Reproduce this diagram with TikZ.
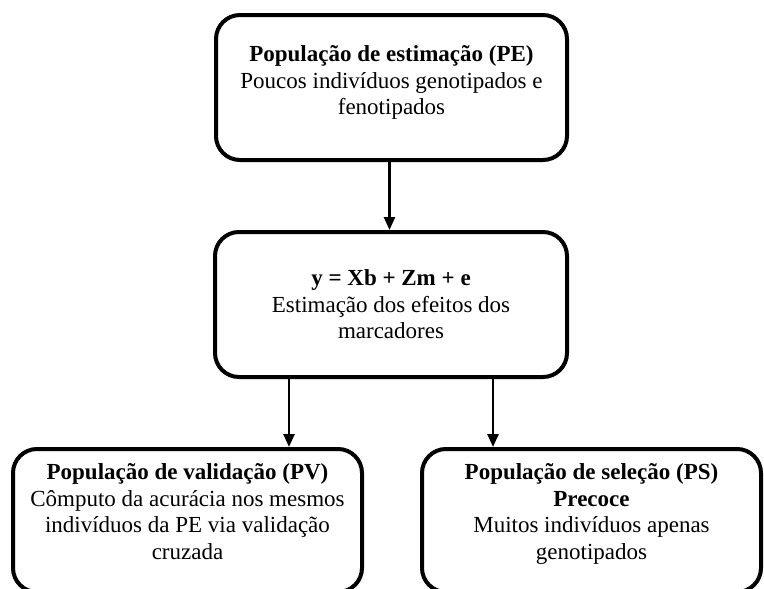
\documentclass[tikz,border=0pt]{standalone}
\usepackage{fontspec}
\setmainfont{Liberation Serif}
\usetikzlibrary{arrows.meta}
\tikzset{
  caixa/.style={draw, line width=4pt, rounded corners=24pt, align=center, inner sep=0pt,
    font=\fontsize{23}{26.5}\selectfont},
  seta/.style={line width=2.5pt, -{Triangle[length=13pt,width=11pt]}}
}

\begin{document}
\begin{tikzpicture}[x=1pt,y=-1pt]
			%%%%% START %%%%%
			\useasboundingbox (0,0) rectangle (764,589);
			
			\node[caixa, minimum width=351pt, minimum height=145pt] (pe) at (391.5,87.5)
			{\textbf{População de estimação (PE)}\\Poucos indivíduos genotipados e\\fenotipados\\[-12pt]\mbox{}};
			
			\node[caixa, minimum width=352pt, minimum height=145pt] (modelo) at (391,304.5)
			{\textbf{y = Xb + Zm + e}\\Estimação dos efeitos dos\\marcadores};
			
			\node[caixa, minimum width=349pt, minimum height=143pt] (pv) at (187.5,520.5)
			{\textbf{População de validação (PV)}\\Cômputo da acurácia nos mesmos\\indivíduos da PE via validação\\cruzada\\[-8pt]\mbox{}};
			
			\node[caixa, minimum width=339pt, minimum height=143pt] (ps) at (591.5,520.5)
			{\textbf{População de seleção (PS)}\\\textbf{Precoce}\\Muitos indivíduos apenas\\genotipados\\[-8pt]\mbox{}};
			
			\draw[seta] ([xshift=-2pt]pe.south) -- ([xshift=-2pt]pe.south |- modelo.north);
			\draw[seta] ([xshift=-102pt]modelo.south) -- ([xshift=-102pt]modelo.south |- pv.north);
			\draw[seta] ([xshift=102pt]modelo.south) -- ([xshift=102pt]modelo.south |- ps.north);
			
			%%%%% END %%%%%
\end{tikzpicture}
\end{document}
